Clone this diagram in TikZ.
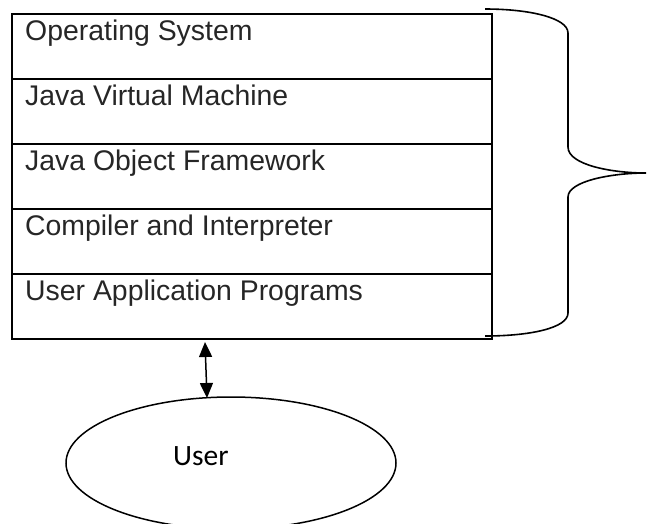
\documentclass[tikz,border=0pt]{standalone}
\usepackage{fontspec}
\setmainfont{Liberation Sans}
\newfontfamily\userfont{Carlito}
\usetikzlibrary{shapes.geometric,arrows.meta}
\definecolor{txt}{RGB}{38,38,38}
\begin{document}
\begin{tikzpicture}[x=1pt,y=-1pt,
  row/.style={draw=black,line width=2pt,rectangle,minimum width=480pt,minimum height=65pt,anchor=north west,inner sep=0pt},
  lbl/.style={anchor=base west,inner sep=0pt,text=txt,font=\fontsize{28.4}{34}\selectfont},
  userell/.style={draw=black,line width=1.5pt,ellipse,minimum width=330pt,minimum height=132pt,inner sep=0pt},
  bracestyle/.style={draw=black,line width=1.6pt},
  link/.style={line width=1.5pt,{Triangle[width=13pt,length=15pt]}-{Triangle[width=13pt,length=15pt]}}]
\useasboundingbox (0,0) rectangle (647,523);
\node[row] (r1) at (11,13) {};
\node[row] (r2) at (11,78) {};
\node[row] (r3) at (11,143) {};
\node[row] (r4) at (11,208) {};
\node[row] (r5) at (11,273) {};
\node[lbl] (t1) at ([shift={(14,27)}]r1.north west) {Operating System};
\node[lbl] (t2) at ([shift={(14,27)}]r2.north west) {Java Virtual Machine};
\node[lbl] (t3) at ([shift={(14,27)}]r3.north west) {Java Object Framework};
\node[lbl] (t4) at ([shift={(14,27)}]r4.north west) {Compiler and Interpreter};
\node[lbl] (t5) at ([shift={(14,27)}]r5.north west) {User Application Programs};
\node[userell] (user) at (231,463) {};
\node[anchor=base west,inner sep=0pt,text=black,font=\userfont\fontsize{29.5}{34}\selectfont] (ulbl) at (173,465) {User};
\coordinate (atop) at (205,342);
\coordinate (abot) at (207,398);
\draw[link] (atop) -- (abot);
\draw[bracestyle] (485,9) .. controls (530,9) and (568,18) .. (568,33)
  -- (568,147) .. controls (568,165) and (612,173) .. (646,173)
  .. controls (612,173) and (568,181) .. (568,197)
  -- (568,313) .. controls (568,328) and (530,336) .. (485,336);
\end{tikzpicture}
\end{document}
